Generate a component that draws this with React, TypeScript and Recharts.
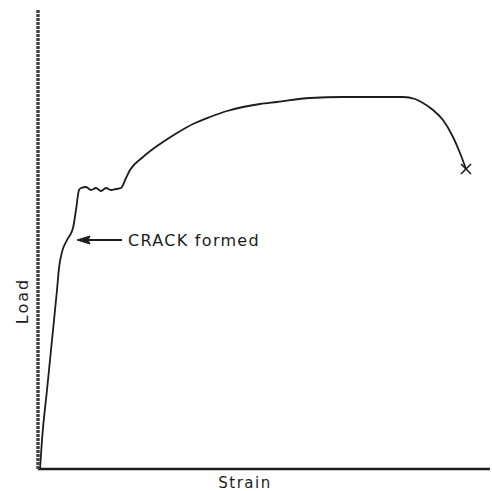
import React from "react"
import {
  LineChart,
  Line,
  XAxis,
  YAxis,
  Label,
  ReferenceLine,
  ReferenceDot,
} from "recharts"

// strain / load (arbitrary units, 0 at the axes)
const strain = [
  2, 4, 9, 14, 19, 21, 24, 29, 35, 38, 41, 43, 48, 53, 58, 63, 68, 73, 78, 83,
  88, 92, 105, 122, 139, 155, 172, 189, 205, 222, 239, 272, 305, 342, 365, 377,
  385, 395, 405, 415, 422, 428,
]
const load = [
  0, 29, 79, 129, 179, 201, 217, 229, 241, 259, 279, 281, 282, 279, 281, 278,
  281, 279, 280, 281, 291, 299, 312, 325, 336, 345, 352, 358, 362, 365, 367,
  371, 372, 372, 372, 370, 366, 359, 349, 332, 316, 300,
]

const strainDomain = [0, 452]
const loadDomain = [0, 459]

// annotation: arrow from text back to the crack point
const crackStrain = 39
const arrowEndStrain = 84
const crackLoad = 229
const crackText = "CRACK formed"

const data = strain.map((s, i) => ({ strain: s, load: load[i] }))
const last = data.length - 1

const ink = "#1c1c1c"
const font = "'DejaVu Sans', Arial, sans-serif"

function EndDot(props: any) {
  const { cx, cy, index } = props
  if (index !== last) return <g key={index} />
  return (
    <g key={index} stroke={ink} strokeWidth={1.6}>
      <line x1={cx - 5} y1={cy - 5} x2={cx + 5} y2={cy + 5} />
      <line x1={cx - 5} y1={cy + 5} x2={cx + 5} y2={cy - 5} />
    </g>
  )
}

function ArrowHead(props: any) {
  const { cx, cy } = props
  return (
    <path
      d={`M${cx},${cy} L${cx + 13},${cy - 4} L${cx + 11},${cy} L${cx + 13},${cy + 4} Z`}
      fill={ink}
      stroke={ink}
      strokeWidth={1}
    />
  )
}

function CrackLabel(props: any) {
  const { cx, cy } = props
  return (
    <text
      x={cx + 6}
      y={cy + 6}
      fill={ink}
      fontFamily={font}
      fontSize={16}
      letterSpacing={1.3}
    >
      {crackText}
    </text>
  )
}

export default function App() {
  return (
    <div style={{ position: "absolute", left: 0, top: 0, background: "#fff" }}>
      <LineChart
        width={492}
        height={491}
        data={data}
        margin={{ top: 10, right: 2, bottom: 0, left: 0 }}
      >
        <XAxis
          type="number"
          dataKey="strain"
          domain={strainDomain}
          ticks={[]}
          tick={false}
          tickLine={false}
          height={22}
          axisLine={{ stroke: ink, strokeWidth: 2.5 }}
        >
          <Label
            content={({ viewBox }: any) => (
              <text
                x={viewBox.x + viewBox.width * 0.458}
                y={viewBox.y + 19}
                textAnchor="middle"
                fill={ink}
                fontFamily={font}
                fontSize={15}
                letterSpacing={1.5}
              >
                Strain
              </text>
            )}
          />
        </XAxis>
        <YAxis
          type="number"
          dataKey="load"
          domain={loadDomain}
          ticks={[]}
          tick={false}
          tickLine={false}
          width={38}
          axisLine={{ stroke: "#444", strokeWidth: 3.5, strokeDasharray: "3 1" }}
        >
          <Label
            content={({ viewBox }: any) => {
              const x = viewBox.x + 28
              const y = viewBox.y + viewBox.height * 0.634
              return (
                <text
                  x={x}
                  y={y}
                  transform={`rotate(-90 ${x} ${y})`}
                  textAnchor="middle"
                  fill={ink}
                  fontFamily={font}
                  fontSize={16}
                  letterSpacing={2}
                >
                  Load
                </text>
              )
            }}
          />
        </YAxis>
        <ReferenceLine
          segment={[
            { x: crackStrain + 8, y: crackLoad },
            { x: arrowEndStrain, y: crackLoad },
          ]}
          stroke={ink}
          strokeWidth={1.8}
        />
        <ReferenceDot x={crackStrain} y={crackLoad} shape={ArrowHead} />
        <ReferenceDot x={arrowEndStrain} y={crackLoad} shape={CrackLabel} />
        <Line
          type="monotone"
          dataKey="load"
          stroke={ink}
          strokeWidth={1.8}
          dot={EndDot}
          activeDot={false}
          isAnimationActive={false}
        />
      </LineChart>
    </div>
  )
}
